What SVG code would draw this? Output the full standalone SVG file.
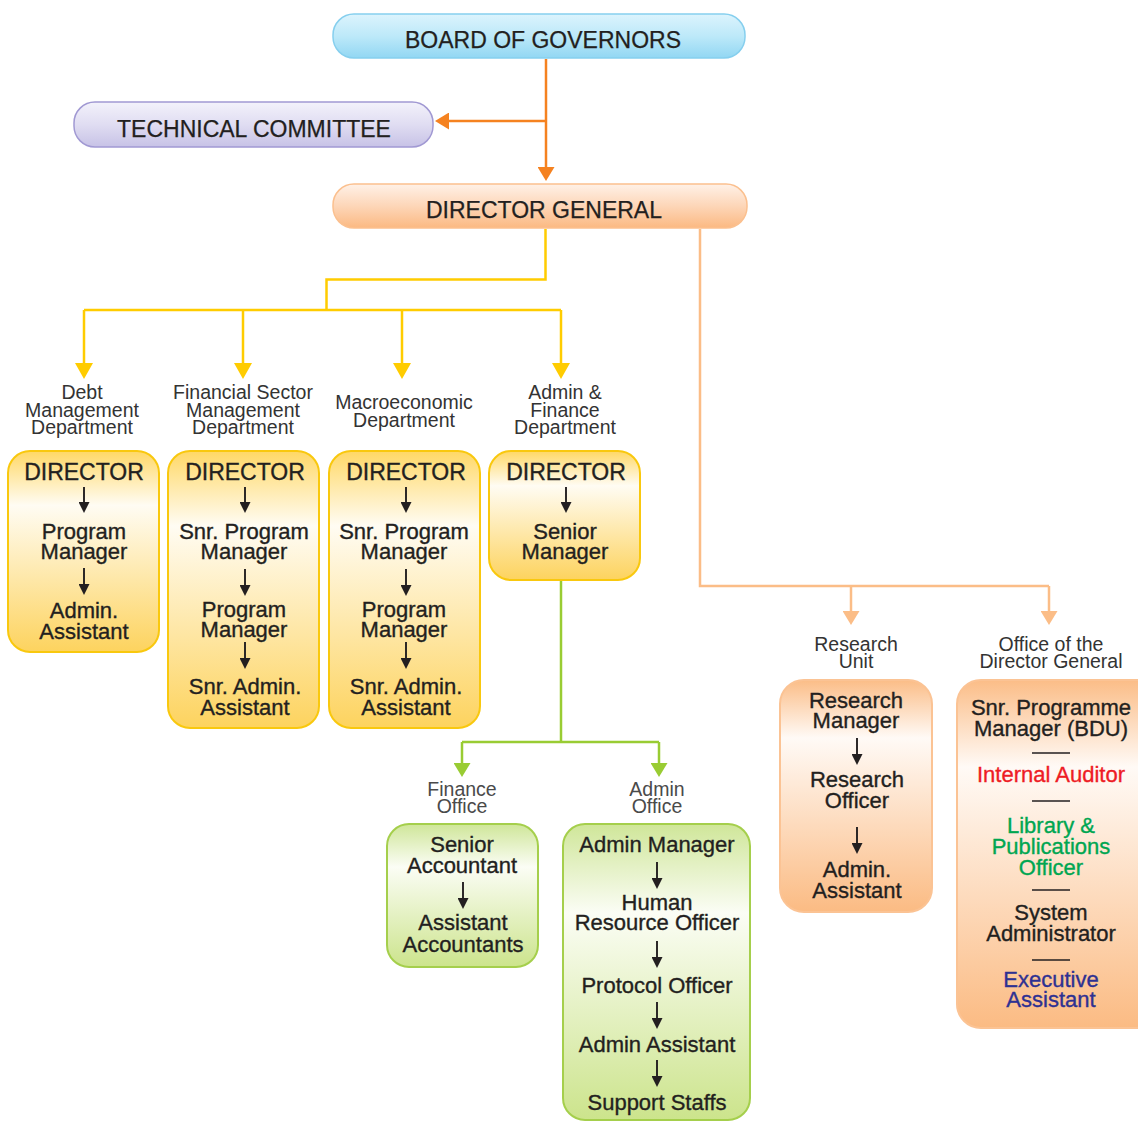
<svg xmlns="http://www.w3.org/2000/svg" width="1138" height="1122" viewBox="0 0 1138 1122">
<defs>
<linearGradient id="gBlue" x1="0" y1="0" x2="0" y2="1"><stop offset="0" stop-color="#dcf4fd"/><stop offset="0.5" stop-color="#bde9f9"/><stop offset="1" stop-color="#92d7f3"/></linearGradient>
<linearGradient id="gPurple" x1="0" y1="0" x2="0" y2="1"><stop offset="0" stop-color="#f3f2fb"/><stop offset="0.5" stop-color="#e0ddf2"/><stop offset="1" stop-color="#c7c2e6"/></linearGradient>
<linearGradient id="gPeachH" x1="0" y1="0" x2="0" y2="1"><stop offset="0" stop-color="#fff1e7"/><stop offset="0.5" stop-color="#fdd6b8"/><stop offset="1" stop-color="#fbb982"/></linearGradient>
<linearGradient id="gYellow" x1="0" y1="0" x2="0" y2="1"><stop offset="0" stop-color="#ffd866"/><stop offset="0.27" stop-color="#fffcf3"/><stop offset="1" stop-color="#fdd35e"/></linearGradient>
<linearGradient id="gGreen" x1="0" y1="0" x2="0" y2="1"><stop offset="0" stop-color="#cfe699"/><stop offset="0.3" stop-color="#fbfdf5"/><stop offset="1" stop-color="#cce48c"/></linearGradient>
<linearGradient id="gPeach" x1="0" y1="0" x2="0" y2="1"><stop offset="0" stop-color="#fbbd87"/><stop offset="0.25" stop-color="#fffaf6"/><stop offset="1" stop-color="#fbbb83"/></linearGradient>
<marker id="aOrange" viewBox="0 0 14 17" markerWidth="14" markerHeight="17" refX="8" refY="8.5" orient="auto" markerUnits="userSpaceOnUse"><path d="M0,0 L14,8.5 L0,17 z" fill="#f58220"/></marker>
<marker id="aYellow" viewBox="0 0 16 18" markerWidth="16" markerHeight="18" refX="10" refY="9" orient="auto" markerUnits="userSpaceOnUse"><path d="M0,0 L16,9 L0,18 z" fill="#ffcc00"/></marker>
<marker id="aPeach" viewBox="0 0 14 17" markerWidth="14" markerHeight="17" refX="8" refY="8.5" orient="auto" markerUnits="userSpaceOnUse"><path d="M0,0 L14,8.5 L0,17 z" fill="#fbbd87"/></marker>
<marker id="aGreen" viewBox="0 0 14 17" markerWidth="14" markerHeight="17" refX="8" refY="8.5" orient="auto" markerUnits="userSpaceOnUse"><path d="M0,0 L14,8.5 L0,17 z" fill="#99cc33"/></marker>
<marker id="aBlack" viewBox="0 0 11 11" markerWidth="11" markerHeight="11" refX="5" refY="5.5" orient="auto" markerUnits="userSpaceOnUse"><path d="M0,0 L11,5.5 L0,11 z" fill="#231f20"/></marker>
</defs>
<style>
text{font-family:"Liberation Sans",Arial,sans-serif;text-anchor:middle;}
.hd{font-size:23px;fill:#231f20;stroke:#231f20;stroke-width:0.25;}
.lb{font-size:19.5px;fill:#333333;}
.lt{font-size:19.5px;fill:#4a4a4a;}
.bx{font-size:22px;fill:#231f20;stroke:#231f20;stroke-width:0.35;}
.dr{font-size:23px;fill:#231f20;stroke:#231f20;stroke-width:0.35;}
.red{fill:#ee1c25;stroke:#ee1c25;}
.grn{fill:#00a651;stroke:#00a651;}
.blu{fill:#2e3192;stroke:#2e3192;}
.ba{stroke:#231f20;stroke-width:1.9;fill:none;marker-end:url(#aBlack);}
.sep{stroke:#231f20;stroke-width:1.5;}
.yb{fill:url(#gYellow);stroke:#f9c80e;stroke-width:2;}
.gb{fill:url(#gGreen);stroke:#a5cf4c;stroke-width:2;}
.pb{fill:url(#gPeach);stroke:#fbc394;stroke-width:2;}
.cy{stroke:#ffcc00;stroke-width:2.5;fill:none;}
.co{stroke:#f58220;stroke-width:2.5;fill:none;}
.cp{stroke:#fbbd87;stroke-width:2.5;fill:none;}
.cg{stroke:#99cc33;stroke-width:2.5;fill:none;}
</style>

<g id="connectors">
<line class="co" x1="546" y1="59" x2="546" y2="175" marker-end="url(#aOrange)"/>
<line class="co" x1="546" y1="121" x2="441" y2="121" marker-end="url(#aOrange)"/>
<polyline class="cy" points="545.5,229 545.5,279.5 326.5,279.5 326.5,310"/>
<line class="cy" x1="84" y1="310" x2="561" y2="310"/>
<line class="cy" x1="84" y1="310" x2="84" y2="373" marker-end="url(#aYellow)"/>
<line class="cy" x1="243" y1="310" x2="243" y2="373" marker-end="url(#aYellow)"/>
<line class="cy" x1="402" y1="310" x2="402" y2="373" marker-end="url(#aYellow)"/>
<line class="cy" x1="561" y1="310" x2="561" y2="373" marker-end="url(#aYellow)"/>
<polyline class="cp" points="700,229 700,586 1049,586"/>
<line class="cp" x1="851" y1="586" x2="851" y2="619" marker-end="url(#aPeach)"/>
<line class="cp" x1="1049" y1="586" x2="1049" y2="619" marker-end="url(#aPeach)"/>
<line class="cg" x1="561" y1="581" x2="561" y2="742"/>
<line class="cg" x1="462" y1="742" x2="659" y2="742"/>
<line class="cg" x1="462" y1="742" x2="462" y2="771" marker-end="url(#aGreen)"/>
<line class="cg" x1="659" y1="742" x2="659" y2="771" marker-end="url(#aGreen)"/>
</g>

<g id="board">
<rect x="333" y="14" width="412" height="44" rx="21" fill="url(#gBlue)" stroke="#86cfee" stroke-width="1.5"/>
<text class="hd" x="543" y="48">BOARD OF GOVERNORS</text>
</g>
<g id="technical-committee">
<rect x="74" y="102" width="359" height="45" rx="21" fill="url(#gPurple)" stroke="#a199d3" stroke-width="1.5"/>
<text class="hd" x="254" y="137">TECHNICAL COMMITTEE</text>
</g>
<g id="director-general">
<rect x="333" y="184" width="414" height="44" rx="21" fill="url(#gPeachH)" stroke="#fbc08f" stroke-width="1.5"/>
<text class="hd" x="544" y="218">DIRECTOR GENERAL</text>
</g>

<g id="debt-dept">
<text class="lb" x="82" y="399">Debt<tspan x="82" dy="18">Management</tspan><tspan x="82" dy="17">Department</tspan></text>
<rect class="yb" x="8" y="451" width="151" height="201" rx="22"/>
<text class="dr" x="84" y="480">DIRECTOR</text>
<line class="ba" x1="84" y1="487" x2="84" y2="507"/>
<text class="bx" x="84" y="539">Program<tspan x="84" dy="20">Manager</tspan></text>
<line class="ba" x1="84" y1="568" x2="84" y2="589"/>
<text class="bx" x="84" y="618">Admin.<tspan x="84" dy="21">Assistant</tspan></text>
</g>

<g id="financial-sector-dept">
<text class="lb" x="243" y="399">Financial Sector<tspan x="243" dy="18">Management</tspan><tspan x="243" dy="17">Department</tspan></text>
<rect class="yb" x="168" y="451" width="151" height="277" rx="22"/>
<text class="dr" x="245" y="480">DIRECTOR</text>
<line class="ba" x1="245" y1="487" x2="245" y2="507"/>
<text class="bx" x="244" y="539">Snr. Program<tspan x="244" dy="20">Manager</tspan></text>
<line class="ba" x1="245" y1="569" x2="245" y2="590"/>
<text class="bx" x="244" y="617">Program<tspan x="244" dy="20">Manager</tspan></text>
<line class="ba" x1="245" y1="642" x2="245" y2="663"/>
<text class="bx" x="245" y="694">Snr. Admin.<tspan x="245" dy="21">Assistant</tspan></text>
</g>

<g id="macroeconomic-dept">
<text class="lb" x="404" y="409">Macroeconomic<tspan x="404" dy="18">Department</tspan></text>
<rect class="yb" x="329" y="451" width="151" height="277" rx="22"/>
<text class="dr" x="406" y="480">DIRECTOR</text>
<line class="ba" x1="406" y1="487" x2="406" y2="507"/>
<text class="bx" x="404" y="539">Snr. Program<tspan x="404" dy="20">Manager</tspan></text>
<line class="ba" x1="406" y1="569" x2="406" y2="590"/>
<text class="bx" x="404" y="617">Program<tspan x="404" dy="20">Manager</tspan></text>
<line class="ba" x1="406" y1="642" x2="406" y2="663"/>
<text class="bx" x="406" y="694">Snr. Admin.<tspan x="406" dy="21">Assistant</tspan></text>
</g>

<g id="admin-finance-dept">
<text class="lb" x="565" y="399">Admin &amp;<tspan x="565" dy="18">Finance</tspan><tspan x="565" dy="17">Department</tspan></text>
<rect class="yb" x="489" y="451" width="151" height="129" rx="22"/>
<text class="dr" x="566" y="480">DIRECTOR</text>
<line class="ba" x1="566" y1="487" x2="566" y2="507"/>
<text class="bx" x="565" y="539">Senior<tspan x="565" dy="20">Manager</tspan></text>
</g>

<g id="finance-office">
<text class="lt" x="462" y="796">Finance<tspan x="462" dy="17">Office</tspan></text>
<rect class="gb" x="387" y="824" width="151" height="143" rx="22"/>
<text class="bx" x="462" y="852">Senior<tspan x="462" dy="21">Accountant</tspan></text>
<line class="ba" x1="463" y1="882" x2="463" y2="903"/>
<text class="bx" x="463" y="930">Assistant<tspan x="463" dy="22">Accountants</tspan></text>
</g>

<g id="admin-office">
<text class="lt" x="657" y="796">Admin<tspan x="657" dy="17">Office</tspan></text>
<rect class="gb" x="563" y="824" width="187" height="296" rx="22"/>
<text class="bx" x="657" y="852">Admin Manager</text>
<line class="ba" x1="657" y1="862" x2="657" y2="883"/>
<text class="bx" x="657" y="910">Human<tspan x="657" dy="20">Resource Officer</tspan></text>
<line class="ba" x1="657" y1="941" x2="657" y2="962"/>
<text class="bx" x="657" y="993">Protocol Officer</text>
<line class="ba" x1="657" y1="1002" x2="657" y2="1023"/>
<text class="bx" x="657" y="1052">Admin Assistant</text>
<line class="ba" x1="657" y1="1060" x2="657" y2="1081"/>
<text class="bx" x="657" y="1110">Support Staffs</text>
</g>

<g id="research-unit">
<text class="lb" x="856" y="651">Research<tspan x="856" dy="17">Unit</tspan></text>
<rect class="pb" x="780" y="680" width="152" height="232" rx="24"/>
<text class="bx" x="856" y="708">Research<tspan x="856" dy="20">Manager</tspan></text>
<line class="ba" x1="857" y1="738" x2="857" y2="759"/>
<text class="bx" x="857" y="787">Research<tspan x="857" dy="21">Officer</tspan></text>
<line class="ba" x1="857" y1="827" x2="857" y2="848"/>
<text class="bx" x="857" y="877">Admin.<tspan x="857" dy="21">Assistant</tspan></text>
</g>

<g id="office-of-dg">
<text class="lb" x="1051" y="651">Office of the<tspan x="1051" dy="17">Director General</tspan></text>
<rect class="pb" x="957" y="680" width="210" height="348" rx="24"/>
<text class="bx" x="1051" y="715">Snr. Programme<tspan x="1051" dy="21">Manager (BDU)</tspan></text>
<line class="sep" x1="1032" y1="753" x2="1070" y2="753"/>
<text class="bx red" x="1051" y="782">Internal Auditor</text>
<line class="sep" x1="1032" y1="801" x2="1070" y2="801"/>
<text class="bx grn" x="1051" y="833">Library &amp;<tspan x="1051" dy="21">Publications</tspan><tspan x="1051" dy="21">Officer</tspan></text>
<line class="sep" x1="1032" y1="890" x2="1070" y2="890"/>
<text class="bx" x="1051" y="920">System<tspan x="1051" dy="21">Administrator</tspan></text>
<line class="sep" x1="1032" y1="960" x2="1070" y2="960"/>
<text class="bx blu" x="1051" y="987">Executive<tspan x="1051" dy="20">Assistant</tspan></text>
</g>
</svg>
